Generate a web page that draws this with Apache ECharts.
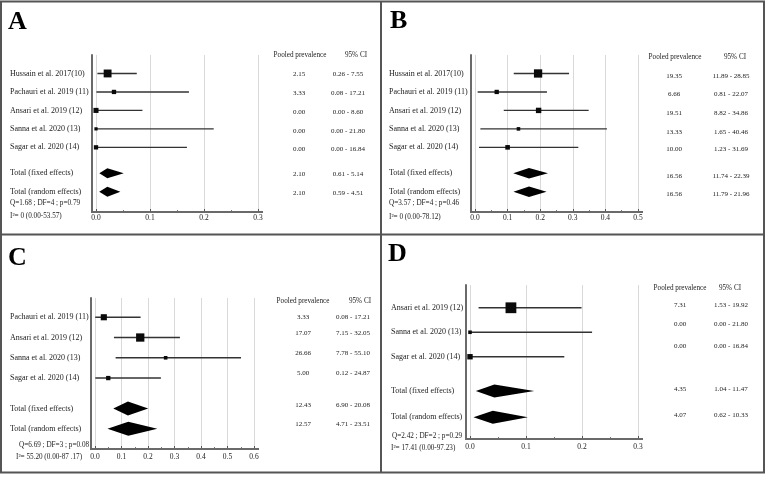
<!DOCTYPE html>
<html><head><meta charset="utf-8">
<script src="https://cdn.jsdelivr.net/npm/echarts@6/dist/echarts.min.js"></script>
<style>html,body{margin:0;padding:0;background:#fff}#c{width:767px;height:477px}</style>
</head><body><div id="c"></div>
<script>
// ---------- DATA ----------
const totalLabels = ['Total (fixed effects)', 'Total (random effects)'];
const tableHeaders = ['Pooled prevalence', '95% CI'];

// Panel A
const studiesA = ['Hussain et al. 2017(10)', 'Pachauri et al. 2019 (11)', 'Ansari et al. 2019 (12)', 'Sanna et al. 2020 (13)', 'Sagar et al. 2020 (14)'];
const estA = [2.15, 3.33, 0.00, 0.00, 0.00];
const lowA = [0.26, 0.08, 0.00, 0.00, 0.00];
const highA = [7.55, 17.21, 8.60, 21.80, 16.84];
const weightA = [53, 16, 22, 9, 16];
const poolEstA = [2.10, 2.10];
const poolLowA = [0.61, 0.59];
const poolHighA = [5.14, 4.51];
const hetA = ['Q=1.68 ; DF=4 ; p=0.79', 'I\u00b2= 0 (0.00-53.57)'];
const xMaxA = 0.3;

// Panel B
const studiesB = ['Hussain et al. 2017(10)', 'Pachauri et al. 2019 (11)', 'Ansari et al. 2019 (12)', 'Sanna et al. 2020 (13)', 'Sagar et al. 2020 (14)'];
const estB = [19.35, 6.66, 19.51, 13.33, 10.00];
const lowB = [11.89, 0.81, 8.82, 1.65, 1.23];
const highB = [28.85, 22.07, 34.86, 40.46, 31.69];
const weightB = [59, 16, 25, 11, 18];
const poolEstB = [16.56, 16.56];
const poolLowB = [11.74, 11.79];
const poolHighB = [22.39, 21.96];
const hetB = ['Q=3.57 ; DF=4 ; p=0.46', 'I\u00b2= 0 (0.00-78.12)'];
const xMaxB = 0.5;

// Panel C
const studiesC = ['Pachauri et al. 2019 (11)', 'Ansari et al. 2019 (12)', 'Sanna et al. 2020 (13)', 'Sagar et al. 2020 (14)'];
const estC = [3.33, 17.07, 26.66, 5.00];
const lowC = [0.08, 7.15, 7.78, 0.12];
const highC = [17.21, 32.05, 55.10, 24.87];
const weightC = [32, 59, 11, 16];
const poolEstC = [12.43, 12.57];
const poolLowC = [6.90, 4.71];
const poolHighC = [20.08, 23.51];
const hetC = ['Q=6.69 ; DF=3 ; p=0.08', 'I\u00b2= 55.20 (0.00-87 .17)'];
const xMaxC = 0.6;

// Panel D
const studiesD = ['Ansari et al. 2019 (12)', 'Sanna et al. 2020 (13)', 'Sagar et al. 2020 (14)'];
const estD = [7.31, 0.00, 0.00];
const lowD = [1.53, 0.00, 0.00];
const highD = [19.92, 21.80, 16.84];
const weightD = [100, 11, 25];
const poolEstD = [4.35, 4.07];
const poolLowD = [1.04, 0.62];
const poolHighD = [11.47, 10.33];
const hetD = ['Q=2.42 ; DF=2 ; p=0.29', 'I\u00b2= 17.41 (0.00-97.23)'];
const xMaxD = 0.3;

// ---------- LAYOUT ----------
const SERIF = '"Liberation Serif", "Times New Roman", serif';
const TXT = '#222';
const panels = [
  {letter:'A', studies:studiesA, est:estA, low:lowA, high:highA, weight:weightA, pe:poolEstA, pl:poolLowA, ph:poolHighA, het:hetA, xMax:xMaxA,
   grid:{left:96, top:55, width:162, height:157}, yMin:-1, yMax:7.5, rows:[0,1,2,3,4], poolRows:[5.4,6.4],
   labelX:10, letterX:8, letterY:22, colP:299, colCI:348, hdrP:300, hdrCI:356, hdrY:55, tblShift:[1,1,2,2,2,1,1],
   hetX:[10,10], hetY:[203,216.5], diaH:10, tickMargin:2},
  {letter:'B', studies:studiesB, est:estB, low:lowB, high:highB, weight:weightB, pe:poolEstB, pl:poolLowB, ph:poolHighB, het:hetB, xMax:xMaxB,
   grid:{left:475, top:55, width:163, height:157}, yMin:-1, yMax:7.5, rows:[0,1,2,3,4], poolRows:[5.4,6.4],
   labelX:389, letterX:390, letterY:21.5, colP:674, colCI:731, hdrP:675, hdrCI:735, hdrY:57, tblShift:[3,2,3,3,2,3,2],
   hetX:[389,389], hetY:[203,217], diaH:10.5, tickMargin:2},
  {letter:'C', studies:studiesC, est:estC, low:lowC, high:highC, weight:weightC, pe:poolEstC, pl:poolLowC, ph:poolHighC, het:hetC, xMax:xMaxC,
   grid:{left:95, top:298, width:159, height:151}, yMin:-0.95, yMax:6.5, rows:[0,1,2,3], poolRows:[4.5,5.5],
   labelX:10, letterX:8, letterY:258, colP:303, colCI:353, hdrP:303, hdrCI:360, hdrY:301, tblShift:[0,-4,-5,-5,-3,-5],
   hetX:[19,16], hetY:[445,457], diaH:14, tickMargin:4},
  {letter:'D', studies:studiesD, est:estD, low:lowD, high:highD, weight:weightD, pe:poolEstD, pl:poolLowD, ph:poolHighD, het:hetD, xMax:xMaxD,
   grid:{left:470, top:285, width:168, height:154}, yMin:-0.93, yMax:5.36, rows:[0,1,2], poolRows:[3.4,4.47],
   labelX:391, letterX:388, letterY:254, colP:680, colCI:731, hdrP:680, hdrCI:730, hdrY:288, tblShift:[-3,-8,-11,-2,-2],
   hetX:[392,391], hetY:[436.5,448.5], diaH:13, tickMargin:4}
];

function fmt(v){ return v.toFixed(2); }

const grids = [], xAxes = [], yAxes = [], series = [], graphics = [];

panels.forEach((P, idx) => {
  grids.push(Object.assign({containLabel:false}, P.grid));
  xAxes.push({
    gridIndex: idx, type:'value', min:0, max:P.xMax, interval:0.1,
    axisLine:{show:false, onZero:false},
    axisTick:{show:true, inside:true, length:3, lineStyle:{color:'#555', width:1}},
    minorTick:{show:true, splitNumber:2, length:2, lineStyle:{color:'#777', width:1}},
    axisLabel:{formatter:v => v.toFixed(1), fontSize:7.5, fontFamily:SERIF, color:TXT, margin:P.tickMargin},
    splitLine:{show:true, lineStyle:{color:'#d9d9d9', width:1}}
  });
  yAxes.push({
    gridIndex: idx, type:'value', inverse:true, min:P.yMin, max:P.yMax, offset:4,
    axisLine:{show:true, onZero:false, lineStyle:{color:'#6a6a6a', width:2}},
    axisTick:{show:false}, axisLabel:{show:false}, splitLine:{show:false}
  });

  const items = [];
  P.studies.forEach((name, i) => items.push({kind:'study', name, v:P.est[i], lo:P.low[i], hi:P.high[i], w:P.weight[i], row:P.rows[i]}));
  totalLabels.forEach((name, i) => items.push({kind:'pool', name, v:P.pe[i], lo:P.pl[i], hi:P.ph[i], row:P.poolRows[i]}));
  items.push({kind:'axis'});

  series.push({
    type:'custom', xAxisIndex:idx, yAxisIndex:idx, clip:false, silent:true, animation:false,
    data: items.map(it => [it.kind === 'axis' ? 0 : it.v / 100, it.kind === 'axis' ? P.yMax : it.row]),
    renderItem(params, api) {
      const k = params.dataIndex;
      const it = items[k];
      if (it.kind === 'axis') {
        const a = api.coord([0, P.yMax]);
        const b = api.coord([P.xMax, P.yMax]);
        return {type:'line', shape:{x1:a[0]-5, y1:a[1], x2:b[0]+5, y2:b[1]}, style:{stroke:'#6a6a6a', lineWidth:2}};
      }
      const c = api.coord([it.v / 100, it.row]);
      const l = api.coord([it.lo / 100, it.row]);
      const h = api.coord([it.hi / 100, it.row]);
      const y = c[1];
      const ty = y + P.tblShift[k];
      const children = [];
      if (it.kind === 'study') {
        const s = 1.08 * Math.sqrt(it.w);
        children.push({type:'line', shape:{x1:l[0], y1:y, x2:h[0], y2:y}, style:{stroke:'#333', lineWidth:1.4}});
        children.push({type:'rect', shape:{x:c[0]-s/2, y:y-s/2, width:s, height:s}, style:{fill:'#0a0a0a'}});
      } else {
        const d = P.diaH / 2;
        children.push({type:'polygon', shape:{points:[[l[0], y], [c[0], y-d], [h[0], y], [c[0], y+d]]}, style:{fill:'#000'}});
      }
      children.push({type:'text', x:P.labelX, y:y, style:{text:it.name, fontSize:8, fontFamily:SERIF, fill:TXT, align:'left', verticalAlign:'middle'}});
      children.push({type:'text', x:P.colP, y:ty, style:{text:fmt(it.v), fontSize:7, fontFamily:SERIF, fill:TXT, align:'center', verticalAlign:'middle'}});
      children.push({type:'text', x:P.colCI, y:ty, style:{text:fmt(it.lo) + ' - ' + fmt(it.hi), fontSize:7, fontFamily:SERIF, fill:TXT, align:'center', verticalAlign:'middle'}});
      return {type:'group', children};
    }
  });

  graphics.push({type:'text', x:P.letterX, y:P.letterY, style:{text:P.letter, font:'bold 26px ' + SERIF, fill:'#000', textAlign:'left', textVerticalAlign:'middle'}});
  graphics.push({type:'text', x:P.hdrP, y:P.hdrY, style:{text:tableHeaders[0], font:'7.2px ' + SERIF, fill:TXT, textAlign:'center', textVerticalAlign:'middle'}});
  graphics.push({type:'text', x:P.hdrCI, y:P.hdrY, style:{text:tableHeaders[1], font:'7.2px ' + SERIF, fill:TXT, textAlign:'center', textVerticalAlign:'middle'}});
  P.het.forEach((t, i) => graphics.push({type:'text', x:P.hetX[i], y:P.hetY[i], style:{text:t, font:'7.2px ' + SERIF, fill:TXT, textAlign:'left', textVerticalAlign:'middle'}}));
});

// panel borders
const border = {stroke:'#555', lineWidth:2};
graphics.push({type:'rect', shape:{x:1, y:1.5, width:763, height:471}, style:Object.assign({fill:'none'}, border)});
graphics.push({type:'line', shape:{x1:381, y1:1.5, x2:381, y2:472.5}, style:border});
graphics.push({type:'line', shape:{x1:1, y1:234.5, x2:764, y2:234.5}, style:border});

const chart = echarts.init(document.getElementById('c'), null, {renderer:'canvas'});
chart.setOption({
  animation:false,
  backgroundColor:'#fff',
  grid: grids, xAxis: xAxes, yAxis: yAxes, series: series,
  graphic: graphics
});
</script></body></html>
